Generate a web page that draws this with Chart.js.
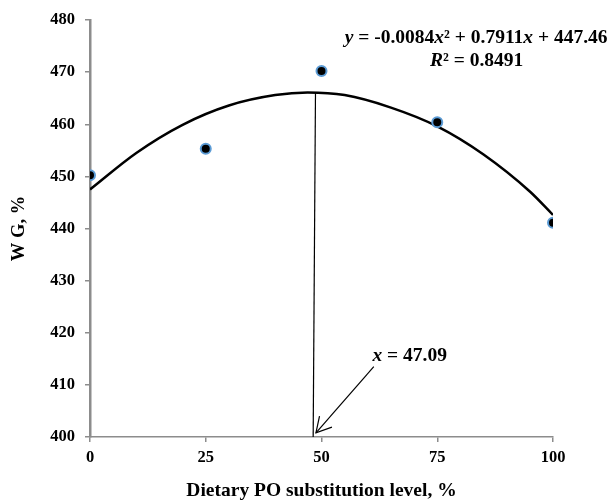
<!DOCTYPE html>
<html>
<head>
<meta charset="utf-8">
<script src="https://cdn.jsdelivr.net/npm/chart.js@4"></script>
<style>
  html, body { margin: 0; padding: 0; background: #fff; }
  #wrap { width: 614px; height: 502px; }
</style>
</head>
<body>
<div id="wrap"><canvas id="chart" width="614" height="502"></canvas></div>
<script>
// Observed data (dietary PO substitution level vs WG)
const levels = [0, 25, 50, 75, 100];
const wgValues = [450.2, 455.3, 470.2, 460.4, 441.1];

// Trend curve
const curveX = [0, 10, 20, 30, 40, 47, 55, 65, 75, 85, 95, 100];
const curveY = [447.5, 454.5, 459.9, 463.6, 465.6, 466.1, 465.6, 463.2, 459.6, 454.2, 447.1, 442.6];

// Vertical marker at the optimum and the arrow pointing at it
const markerX = [48.7, 48.2];
const markerY = [466.0, 400.0];
const arrowX = [61.3, 48.8];
const arrowY = [413.5, 400.8];

const xTicks = [0, 25, 50, 75, 100];
const yTicks = [400, 410, 420, 430, 440, 450, 460, 470, 480];

const FONT = "'Liberation Serif', 'Times New Roman', serif";

function pts(xs, ys) {
  return xs.map((x, i) => ({ x: x, y: ys[i] }));
}

// draws a run of [text, italic] pieces centred or left aligned at (x, y)
function drawRich(ctx, parts, x, y, size, align) {
  let total = 0;
  parts.forEach((p) => {
    ctx.font = (p[1] ? "italic " : "") + "bold " + size + "px " + FONT;
    total += ctx.measureText(p[0]).width;
  });
  let cx = align === "center" ? x - total / 2 : x;
  parts.forEach((p) => {
    ctx.font = (p[1] ? "italic " : "") + "bold " + size + "px " + FONT;
    ctx.fillText(p[0], cx, y);
    cx += ctx.measureText(p[0]).width;
  });
}

const annotations = {
  id: "annotations",
  afterDatasetsDraw(chart) {
    const ctx = chart.ctx;
    const xs = chart.scales.x;
    const ys = chart.scales.y;
    ctx.save();
    ctx.fillStyle = "#000";
    ctx.textBaseline = "middle";

    drawRich(ctx, [["y", true], [" = -0.0084", false], ["x", true], ["\u00b2 + 0.7911", false], ["x", true], [" + 447.46", false]],
      xs.getPixelForValue(83.4), ys.getPixelForValue(476.6), 19.5, "center");
    drawRich(ctx, [["R", true], ["\u00b2 = 0.8491", false]],
      xs.getPixelForValue(83.5), ys.getPixelForValue(472.1), 19.5, "center");
    drawRich(ctx, [["x", true], [" = 47.09", false]],
      xs.getPixelForValue(61.0), ys.getPixelForValue(415.6), 19.5, "left");

    // open arrow head at the end of the arrow dataset
    const meta = chart.getDatasetMeta(3);
    const a = meta.data[0], b = meta.data[1];
    const ang = Math.atan2(b.y - a.y, b.x - a.x);
    const len = 17, spread = Math.PI / 6.2;
    ctx.strokeStyle = "#000";
    ctx.lineWidth = 1.2;
    ctx.beginPath();
    ctx.moveTo(b.x - len * Math.cos(ang - spread), b.y - len * Math.sin(ang - spread));
    ctx.lineTo(b.x, b.y);
    ctx.lineTo(b.x - len * Math.cos(ang + spread), b.y - len * Math.sin(ang + spread));
    ctx.stroke();
    ctx.restore();
  }
};

new Chart(document.getElementById("chart"), {
  type: "scatter",
  data: {
    datasets: [
      {
        label: "WG",
        data: pts(levels, wgValues),
        pointBackgroundColor: "#000",
        pointBorderColor: "#5b9bd5",
        pointBorderWidth: 2,
        pointRadius: 5,
        showLine: false,
        order: 0
      },
      {
        label: "Trend",
        data: pts(curveX, curveY),
        showLine: true,
        borderColor: "#000",
        borderWidth: 2.5,
        pointRadius: 0,
        cubicInterpolationMode: "monotone",
        fill: false,
        order: 1
      },
      {
        label: "Optimum",
        data: pts(markerX, markerY),
        showLine: true,
        borderColor: "#000",
        borderWidth: 1.2,
        pointRadius: 0,
        fill: false,
        order: 2
      },
      {
        label: "Arrow",
        data: pts(arrowX, arrowY),
        showLine: true,
        borderColor: "#000",
        borderWidth: 1.2,
        pointRadius: 0,
        fill: false,
        order: 3
      }
    ]
  },
  options: {
    responsive: false,
    animation: false,
    layout: { padding: { top: 20, right: 61, bottom: 0, left: 0 } },
    plugins: {
      legend: { display: false },
      tooltip: { enabled: false }
    },
    scales: {
      x: {
        type: "linear",
        min: 0,
        max: 100,
        afterBuildTicks: (s) => { s.ticks = xTicks.map((v) => ({ value: v })); },
        afterFit: (s) => { s.height = 65; },
        border: { color: "#8c8c8c", width: 1.5 },
        grid: { drawOnChartArea: false, tickLength: 5, color: "#8c8c8c", lineWidth: 1.5 },
        ticks: { color: "#000", padding: 6, font: { family: FONT, size: 16.5, weight: "bold" } },
        title: {
          display: true,
          text: "Dietary PO substitution level, %",
          color: "#000",
          padding: { top: 0, bottom: -1 },
          font: { family: FONT, size: 19.5, weight: "bold" }
        }
      },
      y: {
        min: 400,
        max: 480,
        afterBuildTicks: (s) => { s.ticks = yTicks.map((v) => ({ value: v })); },
        afterFit: (s) => { s.width = 90; },
        border: { color: "#8c8c8c", width: 2.5 },
        grid: { drawOnChartArea: false, tickLength: 5, color: "#8c8c8c", lineWidth: 1.5 },
        ticks: { color: "#000", padding: 10, font: { family: FONT, size: 16.5, weight: "bold" } },
        title: {
          display: true,
          text: "W G, %",
          color: "#000",
          padding: { top: 8, bottom: 0 },
          font: { family: FONT, size: 18.5, weight: "bold" }
        }
      }
    }
  },
  plugins: [annotations]
});
</script>
</body>
</html>
